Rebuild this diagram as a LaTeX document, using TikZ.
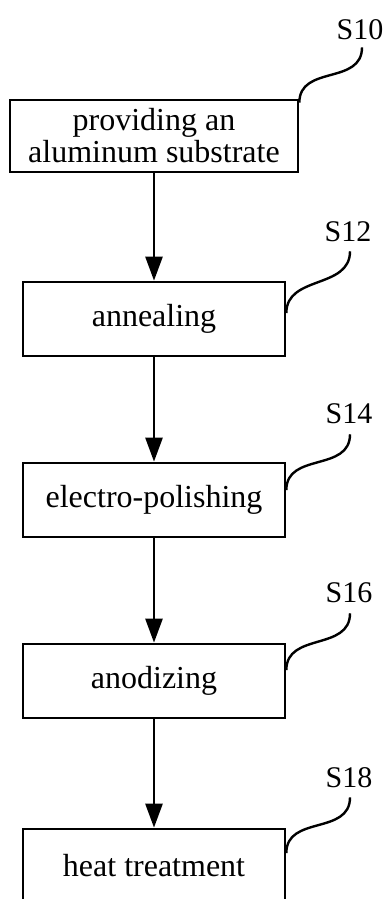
\documentclass[tikz,border=0pt]{standalone}
\usepackage{fontspec}
\setmainfont{Liberation Serif}
\usetikzlibrary{arrows.meta}
\begin{document}
\begin{tikzpicture}[x=1pt,y=-1pt,
  box/.style={draw, line width=2.7pt, align=center, inner sep=0pt,
    font=\fontsize{32}{32}\selectfont, minimum height=74pt, minimum width=262pt},
  lab/.style={inner sep=0pt, font=\fontsize{30}{30}\selectfont},
  arr/.style={line width=2.6pt, -{Triangle[length=24pt,width=17pt]}},
  sq/.style={line width=2.4pt}]
\clip (0,0) rectangle (387,899);
\fill[white] (0,0) rectangle (387,899);
\node[box, minimum width=288pt, minimum height=72pt] (b1) at (154,136) {providing an\\aluminum substrate};
\node[box] (b2) at (154,319) {annealing};
\node[box] (b3) at (154,500) {electro-polishing};
\node[box] (b4) at (154,681) {anodizing};
\node[box] (b5) at (154,866) {heat treatment};
\node[lab] (l1) at (360,30) {S10};
\node[lab] (l2) at (348,232) {S12};
\node[lab] (l3) at (349,414) {S14};
\node[lab] (l4) at (349,593) {S16};
\node[lab] (l5) at (349,778) {S18};
\draw[arr] (b1) -- (b2);
\draw[arr] (b2) -- (b3);
\draw[arr] (b3) -- (b4);
\draw[arr] (b4) -- (b5);
\coordinate (e1) at ([yshift=-4pt]b1.north east);
\coordinate (e2) at ([yshift=6pt]b2.east);
\coordinate (e3) at ([yshift=10pt]b3.east);
\coordinate (e4) at ([yshift=11pt]b4.east);
\coordinate (e5) at ([yshift=13pt]b5.east);
\draw[sq] ([xshift=2pt,yshift=-7pt]l1.south) .. controls +(0,38) and +(0,-38) .. (e1);
\draw[sq] ([xshift=2pt,yshift=-9pt]l2.south) .. controls +(0,38) and +(0,-38) .. (e2);
\draw[sq] ([xshift=1pt,yshift=-10pt]l3.south) .. controls +(0,38) and +(0,-38) .. (e3);
\draw[sq] ([xshift=1pt,yshift=-10pt]l4.south) .. controls +(0,38) and +(0,-38) .. (e4);
\draw[sq] ([xshift=1pt,yshift=-9pt]l5.south) .. controls +(0,38) and +(0,-38) .. (e5);
\end{tikzpicture}
\end{document}
